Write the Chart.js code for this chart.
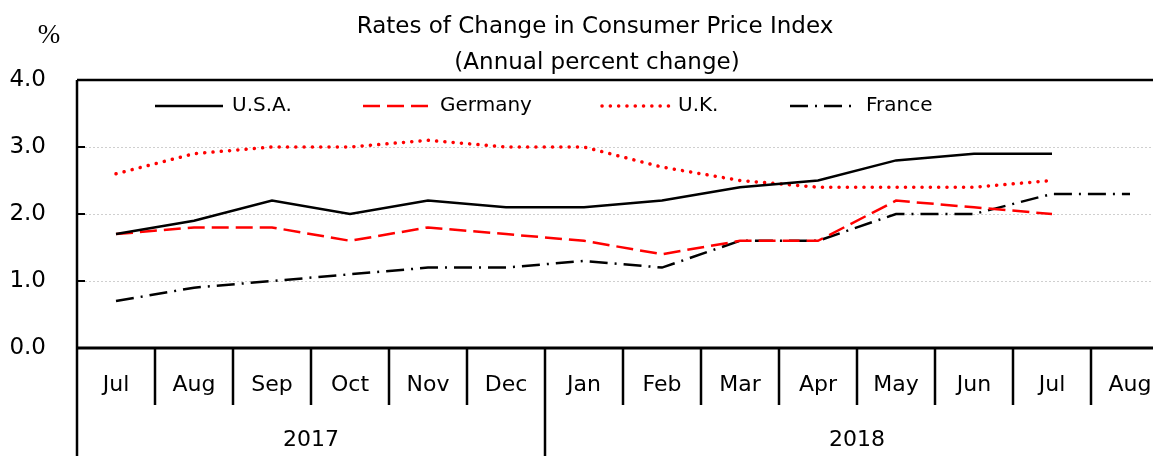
<!DOCTYPE html>
<html>
<head>
<meta charset="utf-8">
<script src="https://cdn.jsdelivr.net/npm/chart.js@4"></script>
<style>
  html, body { margin: 0; padding: 0; background: #fff; overflow: hidden; }
  #wrap { width: 1169px; height: 456px; }
</style>
</head>
<body>
<div id="wrap"><canvas id="cpi"></canvas></div>
<script>
// Chart data
const months = ['Jul', 'Aug', 'Sep', 'Oct', 'Nov', 'Dec', 'Jan', 'Feb', 'Mar', 'Apr', 'May', 'Jun', 'Jul', 'Aug'];
const years = ['2017', '2018'];
const yearStarts = [0, 6];
const yTicks = [0, 1, 2, 3, 4];

const usa = [1.7, 1.9, 2.2, 2.0, 2.2, 2.1, 2.1, 2.2, 2.4, 2.5, 2.8, 2.9, 2.9, null];
const germany = [1.7, 1.8, 1.8, 1.6, 1.8, 1.7, 1.6, 1.4, 1.6, 1.6, 2.2, 2.1, 2.0, null];
const uk = [2.6, 2.9, 3.0, 3.0, 3.1, 3.0, 3.0, 2.7, 2.5, 2.4, 2.4, 2.4, 2.5, null];
const france = [0.7, 0.9, 1.0, 1.1, 1.2, 1.2, 1.3, 1.2, 1.6, 1.6, 2.0, 2.0, 2.3, 2.3];

const FONT = "'DejaVu Sans', sans-serif";

// Frame, gridlines, category boxes, titles and legend
const framePlugin = {
    id: 'frame',
    beforeDatasetsDraw(chart) {
        const { ctx, chartArea: a, scales: { y } } = chart;
        ctx.save();
        ctx.strokeStyle = '#cfcfcf';
        ctx.lineWidth = 1;
        ctx.setLineDash([2, 2]);
        yTicks.slice(1, -1).forEach(v => {
            const py = Math.round(y.getPixelForValue(v)) + 0.5;
            ctx.beginPath();
            ctx.moveTo(a.left, py);
            ctx.lineTo(a.right, py);
            ctx.stroke();
        });
        ctx.restore();
    },
    afterDraw(chart) {
        const { ctx, chartArea: a, scales: { x, y } } = chart;
        const H = chart.height;
        ctx.save();
        ctx.strokeStyle = '#000';
        ctx.lineWidth = 2.5;
        ctx.setLineDash([]);

        // top line, axis lines
        ctx.beginPath();
        ctx.moveTo(a.left, a.top);
        ctx.lineTo(chart.width, a.top);
        ctx.moveTo(a.left, a.top);
        ctx.lineTo(a.left, H);
        ctx.stroke();
        ctx.lineWidth = 3;
        ctx.beginPath();
        ctx.moveTo(a.left, a.bottom);
        ctx.lineTo(chart.width, a.bottom);
        ctx.stroke();

        // inner y ticks
        ctx.lineWidth = 2;
        yTicks.forEach(v => {
            const py = y.getPixelForValue(v);
            ctx.beginPath();
            ctx.moveTo(a.left, py);
            ctx.lineTo(a.left + 8, py);
            ctx.stroke();
        });

        // category separators
        ctx.lineWidth = 2.5;
        for (let i = 1; i < months.length; i++) {
            const px = (x.getPixelForValue(i - 1) + x.getPixelForValue(i)) / 2;
            ctx.beginPath();
            ctx.moveTo(px, a.bottom);
            ctx.lineTo(px, yearStarts.includes(i) ? H : a.bottom + 57);
            ctx.stroke();
        }

        ctx.fillStyle = '#000';
        ctx.textAlign = 'center';
        ctx.textBaseline = 'middle';
        ctx.font = '22px ' + FONT;
        months.forEach((m, i) => ctx.fillText(m, x.getPixelForValue(i), a.bottom + 37));
        years.forEach((yr, k) => {
            const s = yearStarts[k];
            const e = k + 1 < yearStarts.length ? yearStarts[k + 1] - 1 : months.length - 1;
            const cx = (x.getPixelForValue(s) + x.getPixelForValue(e)) / 2;
            ctx.fillText(yr, cx, a.bottom + 92);
        });

        // titles
        ctx.font = '23px ' + FONT;
        ctx.fillText('Rates of Change in Consumer Price Index', 595, 27);
        ctx.fillText('(Annual percent change)', 597, 63);
        ctx.font = "27px 'Liberation Serif', serif";
        ctx.fillText('%', 49, 36);

        // legend
        const sx = [155, 363, 602, 790];
        const ex = [223, 433, 672, 851];
        const tx = [232, 440, 678, 866];
        const ly = 106;
        ctx.textAlign = 'left';
        ctx.font = '20px ' + FONT;
        chart.data.datasets.forEach((ds, i) => {
            ctx.save();
            ctx.strokeStyle = ds.borderColor;
            ctx.lineWidth = ds.borderWidth;
            ctx.lineCap = ds.borderCapStyle || 'butt';
            ctx.setLineDash(ds.borderDash || []);
            ctx.beginPath();
            ctx.moveTo(sx[i], ly);
            ctx.lineTo(ex[i], ly);
            ctx.stroke();
            ctx.restore();
            ctx.fillText(ds.label, tx[i], ly);
        });
        ctx.restore();
    }
};

new Chart(document.getElementById('cpi'), {
    type: 'line',
    data: {
        labels: months,
        datasets: [
            { label: 'U.S.A.', data: usa, borderColor: '#000', borderWidth: 2.5 },
            { label: 'Germany', data: germany, borderColor: '#ff0000', borderWidth: 2.5, borderDash: [17, 7] },
            { label: 'U.K.', data: uk, borderColor: '#ff0000', borderWidth: 3.5, borderDash: [0.1, 8.2], borderCapStyle: 'round' },
            { label: 'France', data: france, borderColor: '#000', borderWidth: 2.5, borderDash: [18, 7, 2, 7] }
        ]
    },
    options: {
        responsive: true,
        maintainAspectRatio: false,
        animation: false,
        layout: { padding: { left: 0, right: 0, top: 80, bottom: 0 } },
        elements: {
            point: { radius: 0, hoverRadius: 0 },
            line: { tension: 0, fill: false }
        },
        plugins: {
            legend: { display: false },
            title: { display: false },
            tooltip: { enabled: false }
        },
        scales: {
            x: {
                type: 'category',
                offset: true,
                grid: { display: false },
                border: { display: false },
                ticks: { display: false },
                afterFit(scale) { scale.height = 108; }
            },
            y: {
                min: 0,
                max: 4,
                grid: { display: false, drawTicks: false },
                border: { display: false },
                ticks: {
                    stepSize: 1,
                    padding: 31,
                    color: '#000',
                    font: { family: FONT, size: 23 },
                    callback: v => v.toFixed(1)
                },
                afterFit(scale) { scale.width = 77; }
            }
        }
    },
    plugins: [framePlugin]
});
</script>
</body>
</html>
